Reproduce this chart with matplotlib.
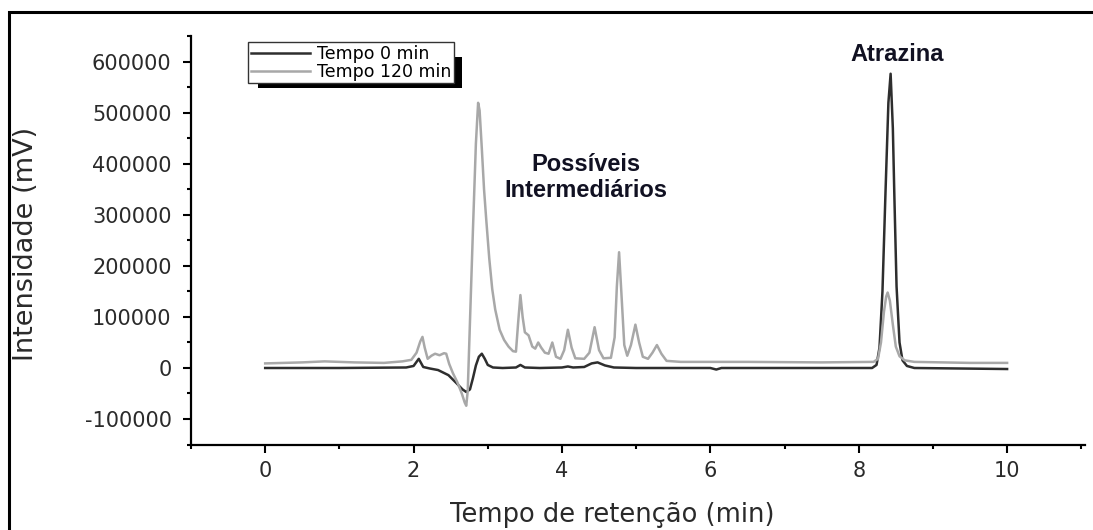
import matplotlib
matplotlib.use("Agg")
import matplotlib.pyplot as plt
from matplotlib.patches import Rectangle
from matplotlib.ticker import MultipleLocator, StrMethodFormatter
from matplotlib.transforms import IdentityTransform

plt.rcParams["axes.unicode_minus"] = False

# Tempo 0 min (dark trace)
t0 = [0.0, 1.0, 1.9, 2.0, 2.07, 2.13, 2.22, 2.33, 2.47, 2.58, 2.66, 2.71, 2.76,
      2.80, 2.84, 2.88, 2.92, 2.96, 3.00, 3.07, 3.20, 3.38, 3.44, 3.50, 3.70,
      4.00, 4.08, 4.15, 4.30, 4.40, 4.48, 4.58, 4.70, 5.00, 5.50, 6.00, 6.08,
      6.15, 7.00, 8.18, 8.24, 8.28, 8.32, 8.36, 8.40, 8.43, 8.46, 8.48, 8.51,
      8.55, 8.59, 8.65, 8.75, 10.0]
i0 = [0, 0, 1000, 4000, 18000, 2000, -1000, -4000, -14000, -30000, -42000,
      -47000, -42000, -20000, 5000, 22000, 28000, 18000, 6000, 1000, 0, 1000,
      6000, 1000, 0, 1000, 3000, 1000, 2000, 9000, 11000, 5000, 1000, 0, 0, 0,
      -3000, 0, 0, 0, 6000, 40000, 150000, 340000, 520000, 577000, 470000,
      340000, 160000, 50000, 15000, 4000, 0, -2000]

# Tempo 120 min (light trace)
t120 = [0.0, 0.5, 0.8, 1.2, 1.6, 1.85, 1.97, 2.04, 2.09, 2.12, 2.15, 2.19, 2.24,
        2.29, 2.35, 2.41, 2.44, 2.48, 2.53, 2.59, 2.65, 2.69, 2.71, 2.73, 2.76,
        2.80, 2.84, 2.87, 2.89, 2.92, 2.95, 2.98, 3.02, 3.06, 3.10, 3.16, 3.22,
        3.28, 3.34, 3.38, 3.41, 3.44, 3.47, 3.50, 3.55, 3.60, 3.64, 3.68, 3.72,
        3.77, 3.82, 3.87, 3.92, 3.98, 4.03, 4.08, 4.13, 4.18, 4.30, 4.37, 4.44,
        4.50, 4.56, 4.66, 4.71, 4.74, 4.77, 4.80, 4.84, 4.88, 4.93, 4.99, 5.04,
        5.09, 5.16, 5.22, 5.28, 5.34, 5.41, 5.60, 6.50, 7.50, 8.20, 8.26, 8.30,
        8.34, 8.37, 8.39, 8.42, 8.46, 8.50, 8.55, 8.62, 8.75, 9.50, 10.0]
i120 = [9000, 11000, 13000, 11000, 10000, 13000, 16000, 30000, 52000, 61000,
        40000, 18000, 24000, 28000, 25000, 29000, 28000, 8000, -10000, -28000,
        -50000, -68000, -74000, -45000, 90000, 270000, 440000, 520000, 505000,
        430000, 350000, 290000, 215000, 155000, 115000, 75000, 55000, 42000,
        33000, 32000, 90000, 143000, 100000, 70000, 64000, 42000, 38000, 50000,
        40000, 30000, 28000, 50000, 22000, 18000, 35000, 75000, 40000, 19000,
        18000, 30000, 80000, 35000, 19000, 20000, 60000, 160000, 227000, 150000,
        45000, 24000, 45000, 85000, 50000, 22000, 18000, 30000, 45000, 28000,
        14000, 12000, 12000, 11000, 12000, 18000, 50000, 110000, 140000, 148000,
        132000, 85000, 42000, 23000, 15000, 12000, 10000, 10000]

labels = ["Tempo 0 min", "Tempo 120 min"]

W, H = 1093, 530
fig = plt.figure(figsize=(W / 100, H / 100), dpi=100)
ax = fig.add_axes([191 / W, 1 - 444.5 / H, 894 / W, 408 / H])

ax.plot(t0, i0, color="#2e2e2e", linewidth=1.8, label=labels[0])
ax.plot(t120, i120, color="#a8a8a8", linewidth=1.8, label=labels[1])

ax.set_xlim(-1.0, 11.05)
ax.set_ylim(-150000, 650000)
ax.xaxis.set_major_locator(MultipleLocator(2))
ax.xaxis.set_minor_locator(MultipleLocator(1))
ax.yaxis.set_major_locator(MultipleLocator(100000))
ax.yaxis.set_minor_locator(MultipleLocator(50000))
ax.yaxis.set_major_formatter(StrMethodFormatter("{x:.0f}"))

for s in ["top", "right"]:
    ax.spines[s].set_visible(False)
for s in ["left", "bottom"]:
    ax.spines[s].set_linewidth(1.6)

ax.tick_params(which="major", direction="out", length=6, width=1.5,
               labelsize=15, labelcolor="#2a2a2a", pad=6)
ax.tick_params(axis="y", which="major", pad=8)
ax.tick_params(which="minor", direction="out", length=3, width=1.5)
for lab in ax.get_xticklabels() + ax.get_yticklabels():
    lab.set_family("DejaVu Sans")

fig.text(612 / W, 1 - 522 / H, "Tempo de retenção (min)", ha="center",
         va="baseline", fontsize=18.5, color="#2a2a2a", family="DejaVu Sans")
fig.text(26 / W, 1 - 244 / H, "Intensidade (mV)", ha="center", va="center",
         rotation=90, fontsize=19.5, color="#2a2a2a", family="DejaVu Sans")

ax.text(8.52, 615000, "Atrazina", ha="center", va="center", fontsize=17,
        fontweight="bold", color="#111122", family="Liberation Sans")
ax.text(4.32, 374000, "Possíveis\nIntermediários", ha="center", va="center",
        fontsize=17, fontweight="bold", color="#111122",
        family="Liberation Sans", linespacing=1.15)

leg = ax.legend(loc="upper left", bbox_to_anchor=(0.0638, 0.9865),
                borderaxespad=0, fancybox=False, frameon=True,
                prop={"family": "DejaVu Sans", "size": 12.5},
                handlelength=3.4, handletextpad=0.45, borderpad=0.15,
                labelspacing=0.0)
leg.get_frame().set_edgecolor("#333333")
leg.get_frame().set_linewidth(1.0)
leg.get_frame().set_alpha(1)

# black drop shadow behind the legend box
fig.canvas.draw()
bb = leg.get_window_extent()
shadow = Rectangle((bb.x0 + 10, bb.y0 - 5), bb.width - 2, bb.height - 10,
                   transform=IdentityTransform(), facecolor="black",
                   edgecolor="none", zorder=4.5, clip_on=False)
ax.add_artist(shadow)

# outer frame around the figure
fig.add_artist(Rectangle((8.5 / W, -0.2), 1.2, 1.2 - 11.5 / H,
                         transform=fig.transFigure, fill=False,
                         edgecolor="black", linewidth=2.2))

fig.savefig("out.png", dpi=100)
